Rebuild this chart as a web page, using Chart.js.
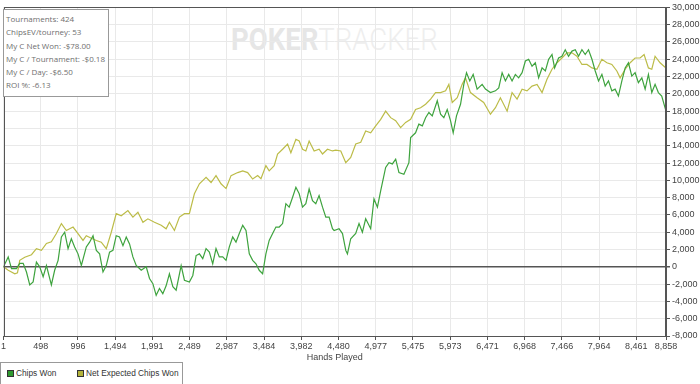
<!DOCTYPE html>
<html><head><meta charset="utf-8">
<script src="https://cdn.jsdelivr.net/npm/chart.js@4.4.1/dist/chart.umd.min.js"></script>
<style>
html,body{margin:0;padding:0;background:#fff;}
#wrap{position:relative;width:700px;height:384px;overflow:hidden;}
#wm{position:absolute;left:231px;top:19px;z-index:0;white-space:nowrap;font-family:Roboto;font-size:32px;transform:scaleX(0.86);transform-origin:0 0;line-height:40px;}
#wm .a{font-weight:700;color:#e6e6e6;}
#wm .b{font-weight:300;color:#eeeeee;}
canvas{position:absolute;left:0;top:0;z-index:1;}
#stats{position:absolute;left:3px;top:9px;width:106px;height:88px;border:1px solid #999;background:#fff;z-index:2;font-family:'Open Sans';font-size:8px;color:#6f6f6f;line-height:13.3px;padding:2px 0 0 2px;box-sizing:border-box;white-space:nowrap;}
#legend{position:absolute;left:0;top:362px;width:183px;height:30px;border:1px solid #999;box-sizing:border-box;background:#fff;z-index:2;font-family:'Liberation Sans';font-size:8.3px;color:#333;white-space:nowrap;}
.sq{position:absolute;top:7px;width:7px;height:7px;border:1px solid #333;box-sizing:border-box;}
.lt{position:absolute;top:5px;line-height:11px;}
</style>
</head><body>
<div id="wrap">
<div id="wm"><span class="a">POKER</span><span class="b">TRACKER</span></div>
<canvas id="c" width="700" height="384"></canvas>
<div id="stats">
<div>Tournaments: 424</div>
<div>ChipsEV/tourney: 53</div>
<div>My C Net Won: -$78.00</div>
<div>My C / Tournament: -$0.18</div>
<div>My C / Day: -$6.50</div>
<div>ROI %: -6.13</div>
</div>
<div id="legend">
<div class="sq" style="left:6px;background:#2f9a2f"></div><div class="lt" style="left:15px">Chips Won</div>
<div class="sq" style="left:76px;background:#b3b33a"></div><div class="lt" style="left:85px">Net Expected Chips Won</div>
</div>
</div>
<script>
const xTickValues = [1,498,996,1494,1991,2489,2987,3484,3982,4480,4977,5475,5973,6471,6968,7466,7964,8461,8858];

const chipsHands = [
1,64,108,174,218,264,308,352,397,441,
485,531,575,641,685,731,775,819,864,908,
952,997,1042,1108,1152,1198,1242,1286,1331,1375,
1419,1464,1508,1552,1598,1642,1686,1731,1775,1842,
1909,1953,1998,2042,2086,2131,2175,2219,2265,2309,
2376,2420,2486,2532,2576,2620,2665,2709,2753,2798,
2842,2886,2932,2976,3020,3065,3109,3153,3199,3243,
3287,3332,3376,3420,3465,3509,3553,3599,3643,3687,
3732,3776,3820,3866,3910,3954,3999,4043,4087,4132,
4176,4220,4266,4310,4354,4399,4421,4487,4533,4577,
4599,4643,4710,4754,4799,4843,4910,4954,5000,5044,
5110,5154,5200,5244,5288,5354,5421,5444,5510,5554,
5600,5644,5688,5733,5800,5844,5888,5933,5977,6013,
6057,6111,6155,6191,6235,6280,6333,6400,6444,6511,
6578,6622,6667,6711,6755,6800,6844,6888,6934,6978,
7022,7067,7111,7155,7201,7245,7289,7334,7369,7422,
7467,7511,7555,7601,7645,7689,7734,7778,7822,7868,
7912,7956,8001,8045,8089,8134,8178,8222,8268,8312,
8356,8401,8445,8489,8535,8579,8623,8668,8712,8756,
8801,8858];
const chipsWon = [
0,1150,-200,-200,400,400,-600,-2100,-1750,550,
0,-1150,150,-2100,-400,750,3450,4000,2100,3250,
2300,1500,150,2300,2850,3600,1900,1500,-600,150,
1700,1900,3600,3450,2450,3450,2650,1150,150,-400,
0,-1350,-1950,-3300,-2500,-3100,-2200,-800,-2300,-2700,
150,-1550,-1750,-1000,1300,1500,950,2100,1700,350,
2100,1150,1150,750,2300,3450,2850,3850,4800,4200,
1500,750,350,-400,-800,1500,3050,3850,4600,4600,
5000,7300,6900,8050,9200,8450,6900,7300,9000,7650,
7300,8250,6900,5750,5750,4400,4200,4400,3850,1900,
1500,3250,3850,5000,4000,5550,4400,7850,6900,8800,
11500,12050,11900,12450,10900,10700,12050,14950,15500,16500,
16300,17250,17850,17450,19200,17650,17250,18200,16900,15500,
17450,18800,21100,22450,21500,22250,20550,21100,20550,20150,
20350,20700,22450,21500,22250,21500,22250,21850,22450,23800,
24000,23200,23600,21850,23000,22650,24000,24550,23000,24150,
24350,25100,24350,24950,25100,24350,25100,24550,25100,24000,
22650,21500,22250,20900,21500,20350,20550,19750,21500,23000,
23600,22050,22450,21300,21850,20550,22250,20150,21100,20150,
19750,18000];

const netHands = [
1,64,152,188,218,285,375,441,508,575,
641,708,775,841,931,997,1064,1108,1175,1242,
1308,1375,1442,1508,1575,1664,1731,1798,1865,1931,
2019,2109,2175,2219,2286,2353,2420,2486,2553,2620,
2709,2776,2842,2909,2976,3043,3132,3199,3265,3332,
3399,3443,3509,3553,3620,3665,3732,3799,3843,3910,
3954,3999,4043,4087,4154,4220,4266,4332,4399,4443,
4510,4577,4643,4710,4777,4843,4910,4977,5044,5110,
5177,5244,5310,5377,5444,5510,5577,5644,5711,5777,
5844,5911,5955,6000,6067,6133,6177,6244,6333,6421,
6511,6578,6644,6734,6800,6867,6934,7000,7067,7134,
7201,7267,7334,7401,7467,7534,7601,7667,7734,7801,
7868,7934,8001,8068,8134,8201,8245,8312,8379,8445,
8512,8565,8623,8668,8712,8779,8858];
const netExpected = [
0,-400,-800,-700,750,1100,1400,2100,1900,2700,
2900,3850,5000,4200,4600,3850,3050,3600,3300,3050,
2850,2100,4000,6150,5900,6500,5750,6300,5150,5550,
5150,4800,4400,5150,4200,5750,6150,6150,8450,9600,
10350,9750,10550,9600,9050,10550,10900,11100,10900,10150,
10550,10200,11700,11100,11700,13050,13600,14200,13200,14750,
14550,13600,13400,14550,13400,13600,13050,13600,13400,13500,
13400,12050,12650,14200,14400,15700,15500,16300,17050,18000,
17250,16900,16100,16700,17050,18200,18400,18800,19400,20150,
20150,20350,21100,19000,19550,21100,21850,20150,19550,19000,
17650,18400,19550,18000,20150,19400,20550,20350,20900,21100,
20150,21700,22850,23600,24150,24750,24750,24350,23400,23400,
23000,22850,24000,23600,23400,22650,21850,22850,23600,24150,
24150,24550,23000,22850,24350,23600,23000];

const pts = (xs, ys) => xs.map((x, i) => ({x: x, y: ys[i]}));
const fmt = v => Number(v).toLocaleString('en-US');
const FONT = {family: 'Liberation Sans', size: 9};

const frame = {
  id: 'frame',
  afterDraw(chart) {
    const a = chart.chartArea, c = chart.ctx;
    c.save();
    c.strokeStyle = '#555';
    c.lineWidth = 1;
    c.strokeRect(Math.round(a.left) + 0.5, Math.round(a.top) + 0.5, Math.round(a.right - a.left) - 1, Math.round(a.bottom - a.top));
    c.restore();
  }
};

new Chart(document.getElementById('c'), {
  type: 'line',
  data: {
    datasets: [
      {label: 'Chips Won', data: pts(chipsHands, chipsWon), borderColor: '#3ea33e', borderWidth: 1.2, pointRadius: 0, tension: 0, fill: false},
      {label: 'Net Expected Chips Won', data: pts(netHands, netExpected), borderColor: '#bcbc48', borderWidth: 1.2, pointRadius: 0, tension: 0, fill: false}
    ]
  },
  options: {
    responsive: false,
    animation: false,
    layout: {padding: {left: 2, top: 6, right: 0, bottom: 21}},
    plugins: {legend: {display: false}, tooltip: {enabled: false}},
    scales: {
      x: {
        type: 'linear', min: 1, max: 8858,
        afterBuildTicks: s => { s.ticks = xTickValues.map(v => ({value: v})); },
        afterFit: s => { s.height = 27; },
        grid: {color: '#e9e9e9', tickLength: 4, tickColor: '#555'},
        border: {display: true, color: '#555'},
        ticks: {padding: 1, maxRotation: 0, autoSkip: false, font: FONT, color: '#444', callback: v => fmt(v)},
        title: {display: true, text: 'Hands Played', padding: {top: 0, bottom: 0}, font: FONT, color: '#444'}
      },
      y: {
        position: 'right', min: -8000, max: 30000,
        afterFit: s => { s.width = 34; },
        ticks: {stepSize: 2000, padding: 2, font: FONT, color: '#444', callback: v => fmt(v)},
        grid: {
          color: c => (c.tick && c.tick.value === 0) ? '#555' : '#e9e9e9',
          lineWidth: c => (c.tick && c.tick.value === 0) ? 1.5 : 1,
          tickColor: '#555', tickLength: 4
        },
        border: {display: true, color: '#555'}
      }
    }
  },
  plugins: [frame]
});
</script>
</body></html>
